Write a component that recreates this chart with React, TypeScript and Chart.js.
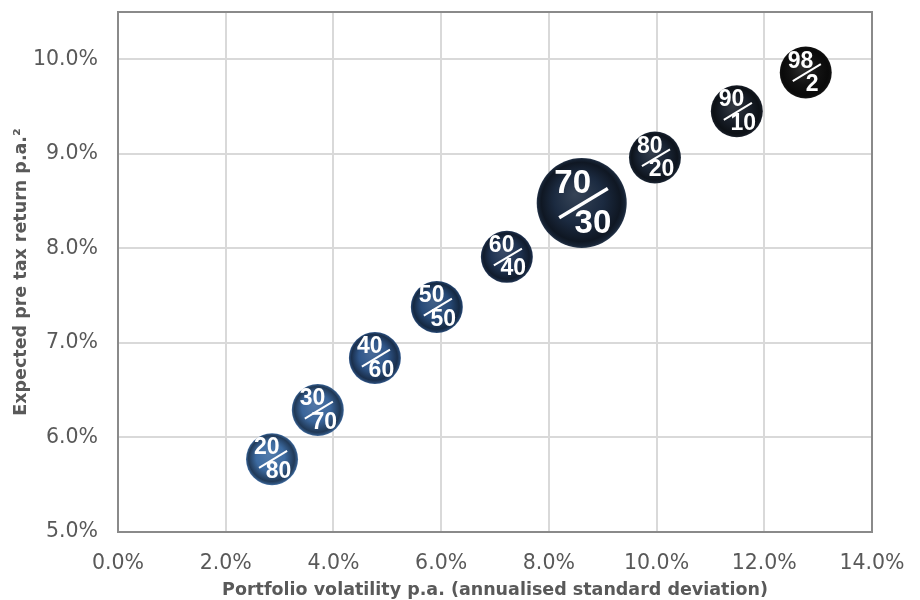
import React, { useEffect, useRef } from "react";
import { Chart, registerables } from "chart.js";

Chart.register(...registerables);

const mixLabels = ["20/80", "30/70", "40/60", "50/50", "60/40", "70/30", "80/20", "90/10", "98/2"];
const volatility = [2.86, 3.71, 4.77, 5.92, 7.22, 8.61, 9.97, 11.49, 12.77];
const expectedReturn = [5.77, 6.29, 6.84, 7.38, 7.91, 8.48, 8.96, 9.45, 9.86];
const bubbleRadius = [26, 26, 26, 26, 26, 45, 26, 26, 26];
const baseColors = ["#3c6aa0", "#3a659a", "#2f568a", "#274a78", "#1f3352", "#1b2a40", "#1a2535", "#181e28", "#121212"];
const xTicks = [0, 2, 4, 6, 8, 10, 12, 14];
const yTicks = [5, 6, 7, 8, 9, 10];

function shade(hex: string, f: number): string {
  const n = parseInt(hex.slice(1), 16);
  let r = (n >> 16) & 255, g = (n >> 8) & 255, b = n & 255;
  if (f >= 0) {
    r = r + (255 - r) * f; g = g + (255 - g) * f; b = b + (255 - b) * f;
  } else {
    r = r * (1 + f); g = g * (1 + f); b = b * (1 + f);
  }
  return `rgb(${Math.round(r)},${Math.round(g)},${Math.round(b)})`;
}

const sphereLabels = {
  id: "sphereLabels",
  afterDatasetsDraw(chart: any) {
    const ctx = chart.ctx;
    const meta = chart.getDatasetMeta(0);
    meta.data.forEach((el: any, i: number) => {
      const r = bubbleRadius[i];
      const { x, y } = el;
      const [top, bottom] = mixLabels[i].split("/");
      ctx.save();
      ctx.fillStyle = "#ffffff";
      ctx.strokeStyle = "#ffffff";
      ctx.textAlign = "center";
      ctx.textBaseline = "middle";
      const fs = Math.round(10 + 0.5 * r);
      ctx.font = `bold ${fs}px "Liberation Sans", Arial, sans-serif`;
      ctx.fillText(top, x - 0.2 * r, y - 0.43 * r);
      ctx.fillText(bottom, x + 0.25 * r, y + 0.47 * r);
      ctx.lineWidth = r > 35 ? 3.5 : 2;
      ctx.beginPath();
      ctx.moveTo(x - 0.5 * r, y + 0.33 * r);
      ctx.lineTo(x + 0.58 * r, y - 0.32 * r);
      ctx.stroke();
      ctx.restore();
    });
  },
};

const frame = {
  id: "frame",
  afterDraw(chart: any) {
    const { ctx, chartArea: a } = chart;
    ctx.save();
    ctx.strokeStyle = "#8a8a8a";
    ctx.lineWidth = 2;
    ctx.strokeRect(a.left, a.top, a.right - a.left, a.bottom - a.top);
    ctx.restore();
  },
};

export default function App() {
  const ref = useRef<HTMLCanvasElement>(null);
  useEffect(() => {
    if (!ref.current) return;
    const data = volatility.map((v, i) => ({ x: v, y: expectedReturn[i], r: bubbleRadius[i] }));
    const chart = new Chart(ref.current, {
      type: "bubble",
      data: {
        datasets: [
          {
            data,
            borderWidth: 0,
            hoverBorderWidth: 0,
            backgroundColor: (c: any) => {
              const chartObj = c.chart;
              const i = c.dataIndex;
              const base = baseColors[i] || "#000";
              if (!chartObj.chartArea || i === undefined) return base;
              const sx = chartObj.scales.x, sy = chartObj.scales.y;
              const px = sx.getPixelForValue(volatility[i]);
              const py = sy.getPixelForValue(expectedReturn[i]);
              const r = bubbleRadius[i];
              const g = chartObj.ctx.createRadialGradient(px - 0.15 * r, py - 0.2 * r, 0, px, py, r);
              g.addColorStop(0, shade(base, 0.12));
              g.addColorStop(0.55, base);
              g.addColorStop(0.88, shade(base, -0.45));
              g.addColorStop(0.96, shade(base, -0.2));
              g.addColorStop(1, shade(base, 0.05));
              return g;
            },
          },
        ],
      },
      options: {
        animation: false,
        responsive: true,
        maintainAspectRatio: false,
        layout: { autoPadding: false, padding: { left: 0, right: 40, top: 4, bottom: 0 } },
        plugins: { legend: { display: false }, tooltip: { enabled: false } },
        scales: {
          x: {
            type: "linear",
            min: 0,
            max: 14,
            afterBuildTicks: (s: any) => { s.ticks = xTicks.map((v) => ({ value: v })); },
            afterFit: (s: any) => { s.height = 68; s.paddingLeft = 0; s.paddingRight = 0; },
            grid: { color: "#d9d9d9", lineWidth: 2, drawTicks: false },
            border: { color: "#8a8a8a", width: 2 },
            ticks: {
              color: "#595959",
              padding: 19,
              maxRotation: 0,
              font: { family: "'DejaVu Sans', Verdana, sans-serif", size: 20.5 },
              callback: (v: any) => Number(v).toFixed(1) + "%",
            },
            title: {
              display: true,
              text: "Portfolio volatility p.a. (annualised standard deviation)",
              color: "#595959",
              font: { family: "'DejaVu Sans', Verdana, sans-serif", size: 17.5, weight: "bold" },
              padding: { top: 0, bottom: -1 },
            },
          },
          y: {
            type: "linear",
            min: 5,
            max: 10.5,
            afterBuildTicks: (s: any) => { s.ticks = yTicks.map((v) => ({ value: v })); },
            afterFit: (s: any) => { s.width = 110; s.paddingTop = 0; s.paddingBottom = 0; },
            grid: { color: "#d9d9d9", lineWidth: 2, drawTicks: false },
            border: { color: "#8a8a8a", width: 2 },
            ticks: {
              color: "#595959",
              padding: 20,
              font: { family: "'DejaVu Sans', Verdana, sans-serif", size: 20.5 },
              callback: (v: any) => Number(v).toFixed(1) + "%",
            },
            title: {
              display: true,
              text: "Expected pre tax return p.a.²",
              color: "#595959",
              font: { family: "'DejaVu Sans', Verdana, sans-serif", size: 17.5, weight: "bold" },
              padding: { top: 3, bottom: 0 },
            },
          },
        },
      },
      plugins: [sphereLabels, frame],
    });
    return () => chart.destroy();
  }, []);
  return (
    <div style={{ position: "absolute", left: 8, top: 8, width: 904, height: 592 }}>
      <canvas ref={ref} />
    </div>
  );
}
